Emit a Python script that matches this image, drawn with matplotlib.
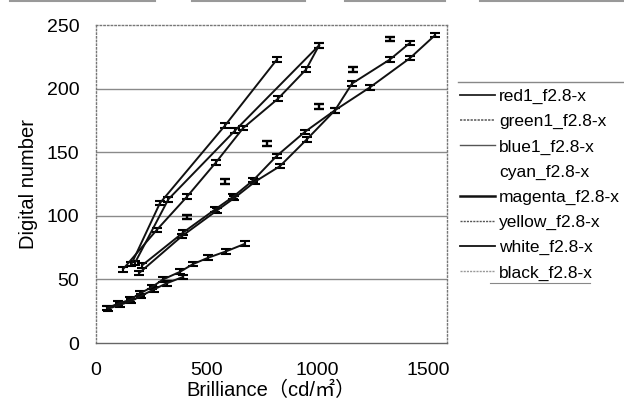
import matplotlib
matplotlib.use("Agg")
import matplotlib.pyplot as plt
from matplotlib.lines import Line2D

plt.rcParams['font.family'] = ['Liberation Sans', 'Noto Sans CJK JP', 'DejaVu Sans']

# ---- data ----
red1_x = [160, 289, 583, 818]
red1_y = [62, 110, 171, 223]

green1_x = [176, 327, 628, 1008]
green1_y = [63, 113, 167, 234]

blue1_x = [122, 275, 411, 542, 665, 822, 949, 1008]
blue1_y = [58, 89, 115, 142, 169, 192, 215, 234]

cyan_x = [411, 583, 773, 1008, 1161, 1329]
cyan_y = [99, 127, 157, 186, 215, 239]

magenta_x = [208, 395, 538, 620, 711, 816, 944, 1080, 1157, 1329, 1419]
magenta_y = [61, 87, 105, 115, 128, 147, 166, 183, 204, 223, 236]

white_x = [195, 388, 545, 625, 720, 831, 952, 1080, 1238, 1419, 1532]
white_y = [55, 84, 104, 114, 127, 139, 160, 183, 201, 224, 242]

yellow_x = [50, 101, 154, 199, 253, 303, 380, 438, 506, 587, 673]
yellow_y = [27.5, 31, 34, 39, 44, 50, 56, 62, 67, 72, 78]

black_x = [56, 108, 160, 203, 260, 320, 394]
black_y = [27, 30, 33, 37, 42, 47, 52]

err = 1.8

labels = ["red1_f2.8-x", "green1_f2.8-x", "blue1_f2.8-x", "cyan_f2.8-x",
          "magenta_f2.8-x", "yellow_f2.8-x", "white_f2.8-x", "black_f2.8-x"]
xs = [red1_x, green1_x, blue1_x, cyan_x, magenta_x, yellow_x, white_x, black_x]
ys = [red1_y, green1_y, blue1_y, cyan_y, magenta_y, yellow_y, white_y, black_y]

fig = plt.figure(figsize=(6.24, 4.17), dpi=100)
ax = fig.add_axes([96/624, 1-343/417, (447-96)/624, (343-25)/417])

for y in [50, 100, 150, 200]:
    ax.axhline(y, color='#8a8a8a', lw=1.0, zorder=0)

for lab, x, y in zip(labels, xs, ys):
    if lab.startswith('cyan'):
        ax.errorbar(x, y, yerr=err, fmt='none', ecolor='black', elinewidth=1.7,
                    capsize=3.5, capthick=1.7, zorder=3)
    else:
        ax.errorbar(x, y, yerr=err, fmt='-', color='#111111', lw=1.4,
                    ecolor='black', elinewidth=1.5, capsize=3.5, capthick=1.5, zorder=3)

ax.set_xlim(0, 1586)
ax.set_ylim(0, 250)
ax.set_xticks([0, 500, 1000, 1500])
ax.set_yticks([0, 50, 100, 150, 200, 250])
ax.tick_params(axis='both', length=0, labelsize=14)
ax.tick_params(axis='x', pad=14)
ax.tick_params(axis='y', pad=12)
for s in ax.spines.values():
    s.set_color('#777777')
    s.set_linestyle(':')
    s.set_linewidth(1.0)
ax.spines['bottom'].set_linestyle('-')
ax.spines['bottom'].set_color('#666666')

ax.set_ylabel("Digital number", fontsize=14.5, labelpad=6)
ax.set_xlabel("Brilliance（cd/㎡）", fontsize=14.5, labelpad=1)

# legend handles styled as in the picture
handles = [
    Line2D([], [], color='#222222', lw=1.3),
    Line2D([], [], color='#555555', lw=1.1, ls=(0, (1.5, 0.8))),
    Line2D([], [], color='#555555', lw=1.0),
    Line2D([], [], color='none', lw=0),
    Line2D([], [], color='#111111', lw=1.8),
    Line2D([], [], color='#555555', lw=1.0, ls=(0, (1.5, 0.8))),
    Line2D([], [], color='#111111', lw=1.3),
    Line2D([], [], color='#999999', lw=1.0, ls=(0, (1.5, 0.8))),
]
fig.legend(handles, labels, loc='upper left', bbox_to_anchor=(460/624, 1-89/417),
           frameon=False, fontsize=12.5, handlelength=2.0, handletextpad=0.25,
           labelspacing=0.57, borderpad=0, borderaxespad=0)

# faint scan border remnants
fig.add_artist(Line2D([458/624, 1.0], [1-82/417]*2, color='#888888', lw=1.0))
fig.add_artist(Line2D([490/624, 590/624], [1-283/417]*2, color='#888888', lw=0.8))
for a, b in [(10, 155), (192, 305), (345, 445), (480, 624)]:
    fig.add_artist(Line2D([a/624, b/624], [1-1/417]*2, color='#999999', lw=1.5))

fig.savefig("out.png", dpi=100)
